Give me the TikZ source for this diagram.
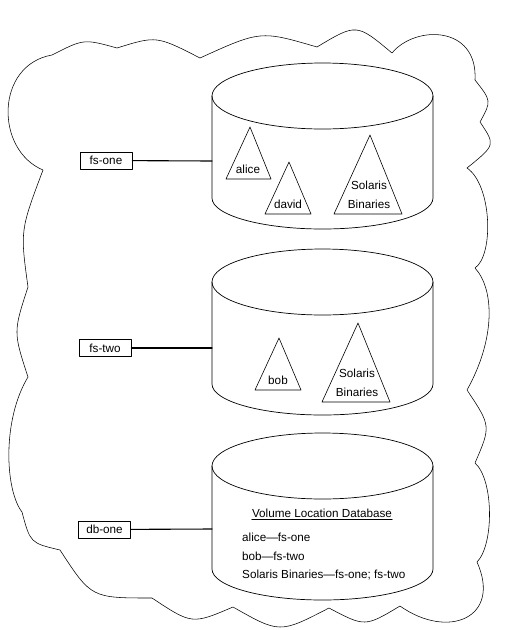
\documentclass[tikz,border=0pt]{standalone}
\usepackage{fontspec}
\setmainfont{Liberation Sans}
\begin{document}
\begin{tikzpicture}[x=1pt, y=-1pt, font=\fontsize{11.7}{18.5}\selectfont, line join=round, line cap=round,
	cloud/.style={line width=0.55pt},
	disk/.style={line width=0.7pt},
	vol/.style={line width=0.6pt},
	srv/.style={draw, line width=0.6pt, minimum width=52pt, minimum height=17pt, inner sep=0pt},
	link/.style={line width=1.1pt}]
	\useasboundingbox (0,0) rectangle (507,630);
	\def\cx{322.5} \def\rx{110.5} \def\ry{33} \def\rb{31}
	\draw[cloud] (43,170) .. controls (-5,150) and (-5,65) .. (52,55)
	.. controls (83.8,38.8) .. (117,48)
	.. controls (156.5,35.7) .. (200,58)
	.. controls (260.5,30.5) .. (317,47)
	.. controls (356.5,23.3) .. (392,53)
	.. controls (415,25) and (478,25) .. (475,80)
	.. controls (491.5,101) .. (480,122)
	.. controls (495.5,145) .. (467,168)
	.. controls (492,185) and (494,255) .. (475,268)
	.. controls (495,290) and (495,340) .. (467,390)
	.. controls (491,426) .. (475,463)
	.. controls (494,480) and (494,545) .. (477,562)
	.. controls (502,618) and (448,640) .. (400,606)
	.. controls (365,627) .. (329,608)
	.. controls (279.7,633.5) .. (233,607)
	.. controls (192,624.5) .. (152,598)
	.. controls (91.3,598) .. (60,550)
	.. controls (30.3,543) .. (22,512)
	.. controls (5,490) and (2,420) .. (28,377)
	.. controls (13.3,332) .. (28,287)
	.. controls (20.2,230.5) .. (43,170) -- cycle;
	\foreach \n/\yt/\yb/\ym in {one/96/198/161, two/282/384/348, db/466/569/529}{
		\draw[disk] (\cx,\yt) ellipse [x radius=\rx, y radius=\ry];
		\draw[disk] (\cx-\rx,\yt) -- (\cx-\rx,\yb) arc[start angle=180, end angle=0, x radius=\rx, y radius=\rb] -- (\cx+\rx,\yt);
		\coordinate (d-\n) at (\cx-\rx,\ym);
	}
	\foreach \ax/\ay/\by/\bl/\br in {250/127/179/226/271, 289/162/214/265/311, 370/135/214/334/402, 279/338/390/255/301, 358/323/402/322/390}
	\draw[vol] (\bl,\by) -- (\ax,\ay) -- (\br,\by) -- cycle;
	\path
	(248,169) node (alice) {alice}
	(288,204) node (david) {david}
	(369,195) node[align=center] (sb-one) {Solaris\\Binaries}
	(278,380) node (bob) {bob}
	(357,383) node[align=center] (sb-two) {Solaris\\Binaries};
	\node[srv] (fs-one) at (106,160.5) {fs-one};
	\node[srv] (fs-two) at (105,348) {fs-two};
	\node[srv] (db-one) at (104.5,529.5) {db-one};
	\draw[link] (fs-one) -- (d-one);
	\draw[link] (fs-two) -- (d-two);
	\draw[link] (db-one) -- (d-db);
	\node[inner sep=0pt] (vld) at (322,513) {Volume Location Database};
	\draw[line width=0.9pt] ([yshift=-2.5pt]vld.base west) -- ([yshift=-2.5pt]vld.base east);
	\node[inner sep=0pt, anchor=west, align=left] (vl-map) at (242,557) {alice---fs-one\\bob---fs-two\\Solaris Binaries---fs-one; fs-two};
\end{tikzpicture}
\end{document}
